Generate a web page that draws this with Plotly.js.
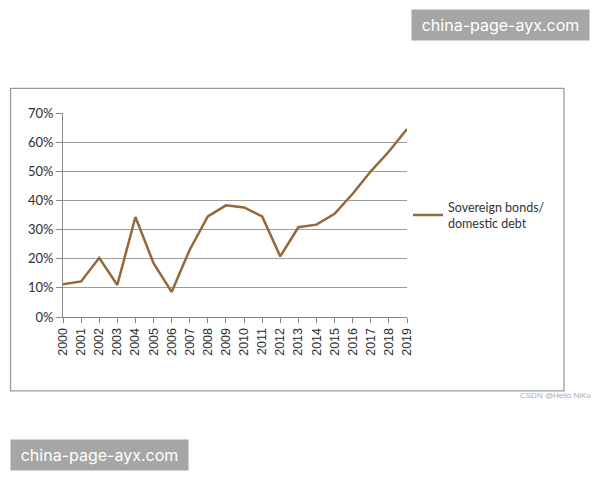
<!DOCTYPE html>
<html>
<head>
<meta charset="utf-8">
<script src="https://cdn.plot.ly/plotly-3.0.1.min.js"></script>
<style>html,body{margin:0;padding:0;background:#fff;} #chart{width:600px;height:480px;}</style>
</head>
<body>
<div id="chart"></div>
<script>
const years = ['2000','2001','2002','2003','2004','2005','2006','2007','2008','2009','2010','2011','2012','2013','2014','2015','2016','2017','2018','2019'];
const sovereignShare = [11.2, 12.2, 20.3, 11.0, 34.3, 18.5, 8.6, 23.1, 34.5, 38.3, 37.6, 34.5, 20.8, 30.8, 31.7, 35.4, 42.3, 50.0, 56.8, 64.5];
const yTicks = [0, 10, 20, 30, 40, 50, 60, 70];
const seriesName = 'Sovereign bonds/<br>domestic debt';
const watermark = 'china-page-ayx.com';
const credit = 'CSDN @Hello NiKo';

const W = 600, H = 480;
const L = 63, R = 407, T = 112.7, B = 316.7;
const px2x = p => (p - L) / (R - L);
const px2y = p => (B - p) / (B - T);

const trace = {
  x: years.map(Number),
  y: sovereignShare,
  type: 'scatter',
  mode: 'lines',
  name: seriesName,
  line: {color: '#94683a', width: 2.5},
  hoverinfo: 'skip'
};

const layout = {
  width: W, height: H,
  margin: {l: L, r: W - R, t: T, b: H - B, pad: 0},
  paper_bgcolor: '#fff', plot_bgcolor: '#fff',
  showlegend: true,
  legend: {
    x: px2x(408), y: px2y(215), xanchor: 'left', yanchor: 'middle',
    font: {family: 'Lato, sans-serif', size: 12.5, color: '#333'},
    bgcolor: 'rgba(0,0,0,0)', borderwidth: 0,
    tracegroupgap: 0
  },
  xaxis: {
    range: [2000, 2019],
    tickvals: years.map(Number),
    ticktext: years,
    tickangle: -90,
    ticks: 'outside', ticklen: 5, tickcolor: '#888', tickwidth: 1,
    showline: true, linecolor: '#888', linewidth: 1,
    showgrid: false, zeroline: false,
    tickfont: {family: 'Liberation Sans, Arial, sans-serif', size: 12.5, color: '#2e2e2e'},
    fixedrange: true
  },
  yaxis: {
    range: [0, 70],
    tickvals: yTicks,
    ticktext: yTicks.map(v => v + '%'),
    ticks: 'outside', ticklen: 6, tickcolor: '#888', tickwidth: 1,
    showline: true, linecolor: '#888', linewidth: 1,
    showgrid: true, gridcolor: '#9d9d9d', gridwidth: 1.2,
    zeroline: false,
    tickfont: {family: 'Lato, sans-serif', size: 13, color: '#2e2e2e'},
    fixedrange: true
  },
  shapes: [
    {type: 'rect', xref: 'paper', yref: 'paper',
     x0: px2x(10.5), x1: px2x(564), y0: px2y(390.5), y1: px2y(88),
     line: {color: '#9a9a9a', width: 1.3}, fillcolor: 'rgba(0,0,0,0)', layer: 'below'}
  ],
  annotations: [
    {xref: 'paper', yref: 'paper', x: px2x(500), y: px2y(25), xanchor: 'center', yanchor: 'middle',
     text: watermark, showarrow: false, bgcolor: '#a6a6a6', width: 169, height: 22, borderpad: 4,
     font: {family: 'Inter, sans-serif', size: 16, color: '#fff'}},
    {xref: 'paper', yref: 'paper', x: px2x(99), y: px2y(455), xanchor: 'center', yanchor: 'middle',
     text: watermark, showarrow: false, bgcolor: '#a6a6a6', width: 169, height: 22, borderpad: 4,
     font: {family: 'Inter, sans-serif', size: 16, color: '#fff'}},
    {xref: 'paper', yref: 'paper', x: px2x(593), y: px2y(395.5), xanchor: 'right', yanchor: 'middle',
     text: credit, showarrow: false,
     font: {family: 'Liberation Sans, Arial, sans-serif', size: 8, color: '#aaa'}}
  ]
};

Plotly.newPlot('chart', [trace], layout, {displayModeBar: false, staticPlot: true});
</script>
</body>
</html>
